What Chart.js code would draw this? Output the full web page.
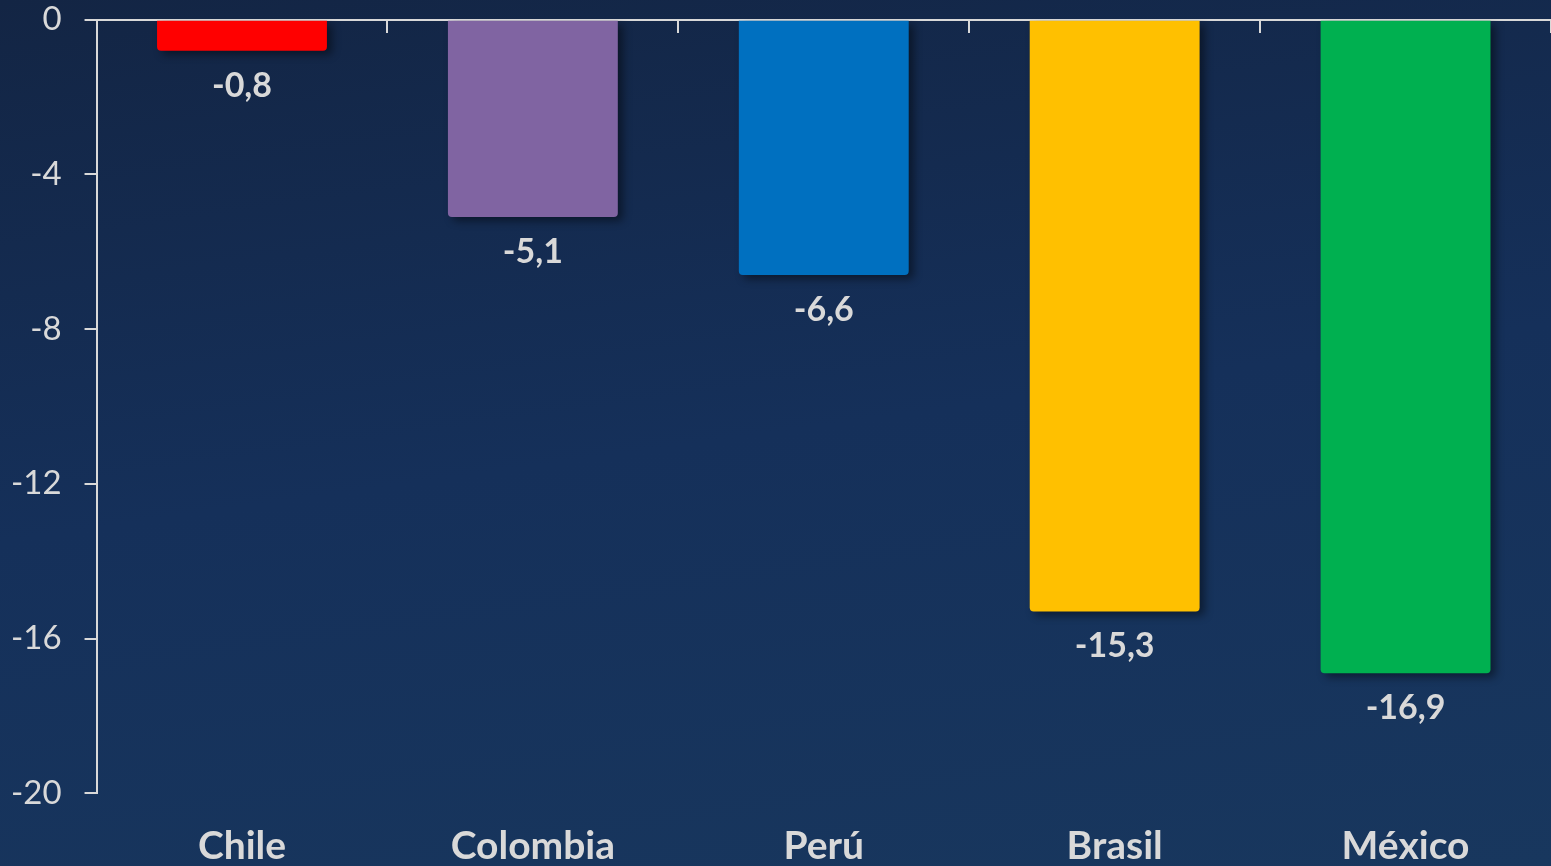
<!DOCTYPE html>
<html>
<head>
<meta charset="utf-8">
<script src="https://cdn.jsdelivr.net/npm/chart.js@4.4.1/dist/chart.umd.min.js"></script>
<style>
  html, body { margin: 0; padding: 0; }
  body {
    width: 1551px; height: 866px; overflow: hidden;
    background: linear-gradient(172deg, #132544 0%, #15305a 50%, #18375e 100%);
  }
  #wrap { position: relative; width: 1551px; height: 866px; }
</style>
</head>
<body>
<div id="wrap"><canvas id="grafico"></canvas></div>
<script>
const paises = ['Chile', 'Colombia', 'Perú', 'Brasil', 'México'];
const variacion = [-0.8, -5.1, -6.6, -15.3, -16.9];
const colores = ['#ff0000', '#8064a2', '#0070c0', '#ffc000', '#00b050'];
const ticksY = [0, -4, -8, -12, -16, -20];

const texto = '#d9d9d9';

// sombra de las barras
const sombra = {
  id: 'sombra',
  beforeDatasetsDraw(chart) {
    const ctx = chart.ctx;
    ctx.save();
    ctx.shadowColor = 'rgba(0, 0, 0, 0.45)';
    ctx.shadowBlur = 8;
    ctx.shadowOffsetX = 5;
    ctx.shadowOffsetY = 4;
  },
  afterDatasetsDraw(chart) {
    chart.ctx.restore();
  }
};

// etiquetas de valor debajo de cada barra
const etiquetas = {
  id: 'etiquetas',
  afterDraw(chart) {
    const ctx = chart.ctx;
    const meta = chart.getDatasetMeta(0);
    ctx.save();
    ctx.fillStyle = texto;
    ctx.font = 'bold 34px Lato';
    ctx.textAlign = 'center';
    ctx.textBaseline = 'middle';
    meta.data.forEach((barra, i) => {
      const v = chart.data.datasets[0].data[i];
      ctx.fillText(v.toFixed(1).replace('.', ','), barra.x, barra.y + 35);
    });
    ctx.restore();
  }
};

const ctxG = document.getElementById('grafico').getContext('2d');
const grafico = new Chart(ctxG, {
  type: 'bar',
  data: {
    labels: paises,
    datasets: [{
      data: variacion,
      backgroundColor: colores,
      borderWidth: 0,
      borderRadius: 4,
      categoryPercentage: 1,
      barPercentage: 0.584
    }]
  },
  options: {
    responsive: true,
    maintainAspectRatio: false,
    animation: false,
    layout: { padding: { left: 11, right: 0, top: 0, bottom: -34 } },
    plugins: {
      legend: { display: false },
      tooltip: { enabled: false }
    },
    scales: {
      x: {
        position: 'bottom',
        grid: { display: false, drawTicks: false },
        border: { display: false },
        ticks: {
          color: texto,
          padding: 30,
          font: { family: 'Lato', size: 39, weight: 'bold' }
        }
      },
      x2: {
        type: 'category',
        labels: paises,
        position: { y: 0 },
        offset: true,
        grid: {
          offset: true,
          drawOnChartArea: false,
          drawTicks: true,
          tickLength: 12,
          color: texto,
          lineWidth: 2
        },
        border: { display: true, color: texto, width: 2 },
        ticks: { display: false }
      },
      y: {
        min: -20,
        max: 0,
        afterBuildTicks(scale) {
          scale.ticks = ticksY.map(v => ({ value: v }));
        },
        grid: {
          drawOnChartArea: false,
          drawTicks: true,
          // marca de 12px pegada al eje, con 23px libres antes del texto
          tickLength: 35,
          tickBorderDash: [0, 23, 12, 1000],
          color: texto,
          lineWidth: 2
        },
        border: { display: true, color: texto, width: 2 },
        ticks: {
          color: texto,
          padding: 0,
          font: { family: 'Lato', size: 33 }
        }
      }
    }
  },
  plugins: [sombra, etiquetas]
});
</script>
</body>
</html>
